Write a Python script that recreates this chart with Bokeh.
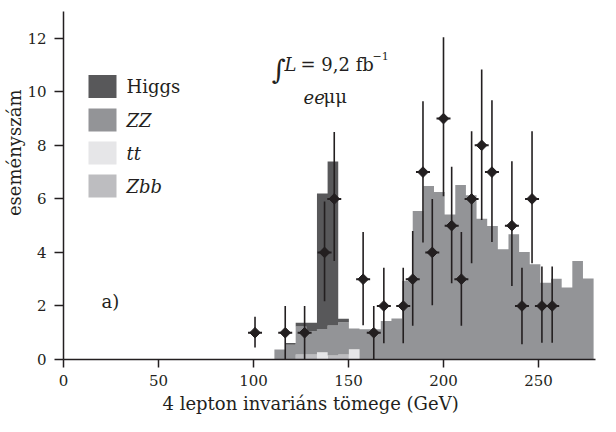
import numpy as np
from bokeh.plotting import figure
from bokeh.models import Label, FixedTicker, Range1d, Title
from bokeh.embed import file_html
from bokeh.resources import INLINE

# ---- histogram (stacked MC) ----
bin_edges = [111.0, 116.6, 122.2, 127.8, 133.4, 139.0, 144.6, 150.2, 155.8, 161.4,
             167.0, 172.6, 178.2, 183.8, 189.4, 195.0, 200.6, 206.2, 211.8, 217.4,
             223.0, 228.6, 234.2, 239.8, 245.4, 251.0, 256.6, 262.2, 267.8, 273.4, 279.0]
zbb = [0, 0, 0.19, 0.19, 0, 0.15, 0.19, 0, 0, 0,
       0, 0, 0, 0, 0, 0, 0, 0, 0, 0,
       0, 0, 0, 0, 0, 0, 0, 0, 0, 0]
tt = [0, 0, 0, 0, 0.27, 0, 0, 0.38, 0, 0,
      0, 0, 0, 0, 0, 0, 0, 0, 0, 0,
      0, 0, 0, 0, 0, 0, 0, 0, 0, 0]
zz = [0.37, 0.55, 1.04, 0.87, 0.87, 1.12, 1.20, 0.78, 1.13, 1.13,
      1.44, 1.53, 2.94, 5.55, 6.48, 6.26, 5.42, 6.52, 6.14, 5.26,
      4.99, 4.12, 4.68, 4.02, 3.56, 2.87, 3.02, 2.69, 3.68, 3.03]
higgs = [0, 0.07, 0.14, 0.31, 5.06, 6.13, 0.13, 0, 0, 0,
         0, 0, 0, 0, 0, 0, 0, 0, 0, 0,
         0, 0, 0, 0, 0, 0, 0, 0, 0, 0]

# ---- measured data points ----
data_x = [100.8, 116.7, 126.9, 137.4, 142.5, 157.7, 163.3, 168.6, 178.8, 183.8,
          189.2, 194.1, 200.0, 204.3, 209.4, 214.8, 220.1, 225.5, 236.0, 241.3,
          246.6, 251.8, 257.2]
data_y = [1, 1, 1, 4, 6, 3, 1, 2, 2, 3,
          7, 4, 9, 5, 3, 6, 8, 7, 5, 2,
          6, 2, 2]
data_hi = [1.6, 2.0, 2.0, 5.9, 8.5, 4.76, 2.0, 3.43, 3.43, 4.8,
           9.65, 6.0, 12.04, 7.2, 4.76, 8.53, 10.83, 9.68, 7.41, 3.43,
           8.53, 3.47, 3.47]
data_lo = [0.45, 0, 0, 2.18, 3.68, 1.28, 0, 0.61, 0.61, 1.26,
           4.37, 2.03, 6.1, 2.85, 1.26, 3.6, 5.21, 4.39, 2.75, 0.57,
           3.6, 0.63, 0.63]

x_ticks = [0, 50, 100, 150, 200, 250]
y_ticks = [0, 2, 4, 6, 8, 10, 12]

legend_names = ["Higgs", "ZZ", "tt", "Zbb"]
legend_styles = ["normal", "italic", "italic", "italic"]

higgs_color = "#58585a"
zz_color = "#939497"
tt_color = "#e6e6e8"
zbb_color = "#bdbdc0"
ink = "#231f20"
FONT = "DejaVu Serif"

X0, X1, Y0, Y1 = 0, 280, 0, 13
FW, FH = 532, 348
ML, MT = 63, 11

p = figure(frame_width=FW, frame_height=FH, output_backend="svg", toolbar_location=None,
           x_range=Range1d(X0, X1), y_range=Range1d(Y0, Y1),
           min_border_left=ML, min_border_top=MT, min_border_right=8, min_border_bottom=57)
p.outline_line_color = None
p.xgrid.visible = False
p.ygrid.visible = False
p.background_fill_color = "white"

# helpers: page pixel -> data coordinate (for annotation placement)
def dx(px):
    return (px - 8 - ML) * (X1 - X0) / FW

def dy(py):
    return (8 + MT + FH - py) * (Y1 - Y0) / FH

# stacked histogram, drawn as step areas
layers = [(zbb, zbb_color), (tt, tt_color), (zz, zz_color), (higgs, higgs_color)]
base = np.zeros(len(zz))
for vals, col in layers:
    v = np.array(vals, dtype=float)
    top = base + v
    y1 = np.append(base, base[-1])
    y2 = np.append(top, top[-1])
    p.varea_step(x=bin_edges, y1=y1, y2=y2, step_mode="after", fill_color=col)
    base = top

# data points with error bars
p.segment(x0=data_x, y0=data_lo, x1=data_x, y1=data_hi, line_color=ink, line_width=1.6)
p.scatter(data_x, data_y, marker="dash", size=14, line_color=ink, line_width=2)
p.scatter(data_x, data_y, marker="square", angle=np.pi / 4, size=7.5,
          fill_color=ink, line_color=ink)

# legend (manual)
legend_colors = [higgs_color, zz_color, tt_color, zbb_color]
leg_y_px = [94, 127.5, 160.5, 193.5]
p.rect(x=[dx(110)] * 4, y=[dy(v) for v in leg_y_px], width=28, height=23,
       width_units="screen", height_units="screen", fill_color=legend_colors, line_color=None)
for name, style, ypx in zip(legend_names, legend_styles, leg_y_px):
    p.add_layout(Label(x=dx(134), y=dy(ypx), text=name, text_font=FONT, text_font_size="18px",
                       text_font_style=style, text_color=ink, text_baseline="middle"))

# luminosity text
p.add_layout(Label(x=dx(279), y=dy(77), text="\u222b", text_font=FONT, text_font_size="27px",
                   text_color=ink, text_baseline="alphabetic"))
p.add_layout(Label(x=dx(292), y=dy(72), text="L", text_font=FONT, text_font_size="18px",
                   text_font_style="italic", text_color=ink, text_baseline="alphabetic"))
p.add_layout(Label(x=dx(308), y=dy(72), text="= 9,2 fb", text_font=FONT, text_font_size="18px",
                   text_color=ink, text_baseline="alphabetic"))
p.add_layout(Label(x=dx(380), y=dy(63), text="\u22121", text_font=FONT, text_font_size="11px",
                   text_color=ink, text_baseline="alphabetic"))
p.add_layout(Label(x=dx(311), y=dy(104), text="ee", text_font=FONT, text_font_size="18px",
                   text_font_style="italic", text_color=ink, text_baseline="alphabetic"))
p.add_layout(Label(x=dx(331), y=dy(104), text="\u03bc\u03bc", text_font=FONT, text_font_size="18px",
                   text_color=ink, text_baseline="alphabetic"))
p.add_layout(Label(x=dx(109), y=dy(309), text="a)", text_font=FONT, text_font_size="18px",
                   text_color=ink, text_baseline="alphabetic"))

# axis titles
p.add_layout(Title(text="4 lepton invariáns tömege (GeV)", align="left", offset=99, standoff=5,
                   text_font=FONT, text_font_size="18px", text_font_style="normal",
                   text_color=ink), "below")
p.add_layout(Title(text="eseményszám", align="right", offset=78, standoff=0,
                   text_font=FONT, text_font_size="18px", text_font_style="normal",
                   text_color=ink), "left")

for ax in (p.xaxis[0], p.yaxis[0]):
    ax.axis_line_color = ink
    ax.axis_line_width = 1.5
    ax.major_tick_line_color = ink
    ax.major_tick_line_width = 1.5
    ax.major_tick_in = 0
    ax.minor_tick_line_color = None
    ax.major_label_text_font = FONT
    ax.major_label_text_font_size = "15px"
    ax.major_label_text_color = ink

p.xaxis.ticker = FixedTicker(ticks=x_ticks)
p.yaxis.ticker = FixedTicker(ticks=y_ticks)
p.xaxis.major_tick_out = 8
p.yaxis.major_tick_out = 9
p.xaxis.major_label_standoff = 7
p.yaxis.major_label_standoff = 8

open("out.html", "w").write(file_html(p, INLINE))
